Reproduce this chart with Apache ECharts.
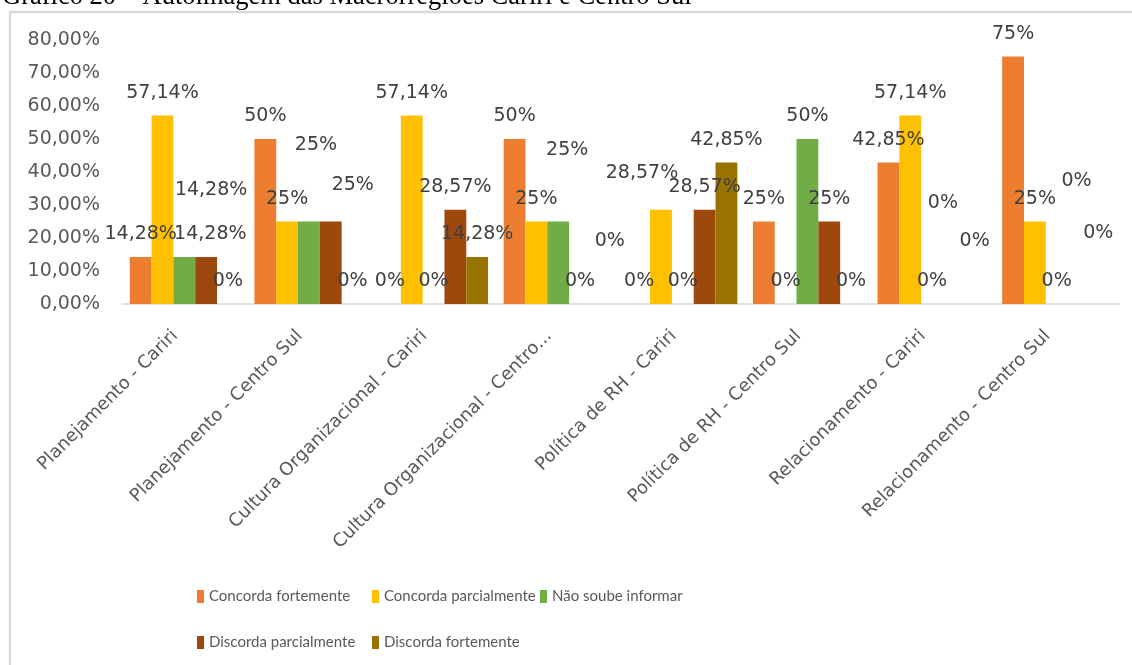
<!DOCTYPE html>
<html>
<head>
<meta charset="utf-8">
<script src="https://cdn.jsdelivr.net/npm/echarts@6/dist/echarts.min.js"></script>
<style>
html,body{margin:0;padding:0;background:#fff;}
#chart{width:1132px;height:665px;}
</style>
</head>
<body>
<div id="chart"></div>
<script>
// ---- data ----
const titleText = 'Gráfico 20 – Autoimagem das Macrorregiões Cariri e Centro Sul';
const categories = [
  'Planejamento - Cariri',
  'Planejamento - Centro Sul',
  'Cultura Organizacional - Cariri',
  'Cultura Organizacional - Centro Sul',
  'Política de RH - Cariri',
  'Política de RH - Centro Sul',
  'Relacionamento - Cariri',
  'Relacionamento - Centro Sul'
];
const seriesNames = ['Concorda fortemente', 'Concorda parcialmente', 'Não soube informar', 'Discorda parcialmente', 'Discorda fortemente'];
const concordaFortemente   = [14.28, 50, 0, 50, 0, 25, 42.85, 75];
const concordaParcialmente = [57.14, 25, 57.14, 25, 28.57, 0, 57.14, 25];
const naoSoubeInformar     = [14.28, 25, 0, 25, 0, 50, 0, 0];
const discordaParcialmente = [14.28, 25, 28.57, 0, 28.57, 25, 0, 0];
const discordaFortemente   = [0, 0, 14.28, 0, 42.85, 0, 0, 0];
const yMin = 0, yMax = 80, yStep = 10;

// ---- styling / layout ----
const colors = ['#ED7D31', '#FFC000', '#70AD47', '#9E480E', '#997300'];
const seriesValues = [concordaFortemente, concordaParcialmente, naoSoubeInformar, discordaParcialmente, discordaFortemente];
// manual label nudges (as moved in the original), keyed "series,category"
const labelNudges = {
  '2,0': [26, 0], '3,0': [5, -44],
  '2,1': [7, -54], '3,1': [22, -14],
  '2,3': [9, -49], '4,3': [8, -40],
  '1,4': [-19, -14],
  '3,6': [-11, -78], '4,6': [-1, -40],
  '3,7': [-2, -100], '4,7': [-2, -48]
};
const FONT = "'DejaVu Sans', sans-serif";
const LEGEND_FONT = "Lato, Roboto, sans-serif";

function pct(v) {
  return (Math.round(v) === v ? String(v) : v.toFixed(2).replace('.', ',')) + '%';
}

// width that just fits the truncated label as in the original
const cv = document.createElement('canvas').getContext('2d');
cv.font = "18px 'DejaVu Sans'";
const labelW = Math.ceil(cv.measureText('Cultura Organizacional - Centro...').width) + 2;

const series = seriesNames.map((name, s) => ({
  name: name,
  type: 'bar',
  barGap: '0%',
  barCategoryGap: '12.5%',
  itemStyle: { color: colors[s] },
  label: {
    show: true, position: 'top', distance: 13,
    color: '#404040', fontFamily: FONT, fontSize: 19,
    formatter: p => pct(p.value)
  },
  data: seriesValues[s].map((v, c) => {
    const n = labelNudges[s + ',' + c];
    return n ? { value: v, label: { offset: n } } : v;
  })
}));

const legendPos = [[197, 589], [372, 589], [540, 589], [197, 635], [372, 635]];
const legends = seriesNames.map((name, i) => ({
  data: [name], left: legendPos[i][0], top: legendPos[i][1],
  itemWidth: 7, itemHeight: 13, itemGap: 5, padding: 0,
  icon: 'rect',
  textStyle: { color: '#595959', fontFamily: LEGEND_FONT, fontSize: 15 },
  selectedMode: false
}));

const chart = echarts.init(document.getElementById('chart'), null, { renderer: 'canvas' });
chart.setOption({
  animation: false,
  color: colors,
  graphic: [
    { type: 'text', x: 2, y: -3, style: { text: titleText, font: "26.5px 'Liberation Serif'", fill: '#000', verticalAlign: 'middle' }, z: 10 },
    { type: 'rect', shape: { x: 10, y: 12, width: 1200, height: 700 }, style: { fill: 'none', stroke: '#d9d9d9', lineWidth: 2.5 }, z: 0 }
  ],
  legend: legends,
  grid: { left: 122, right: 13, top: 40, height: 264 },
  xAxis: {
    type: 'category', data: categories,
    axisLine: { lineStyle: { color: '#d9d9d9', width: 1.5 } },
    axisTick: { show: false },
    axisLabel: {
      rotate: 45, interval: 0, margin: 20, padding: [0, 13, 0, 0],
      color: '#595959', fontFamily: FONT, fontSize: 18,
      width: labelW, overflow: 'truncate', ellipsis: '...'
    }
  },
  yAxis: {
    type: 'value', min: yMin, max: yMax, interval: yStep,
    splitLine: { show: false },
    axisLine: { show: false }, axisTick: { show: false },
    axisLabel: {
      margin: 22, color: '#595959', fontFamily: FONT, fontSize: 19,
      formatter: v => v.toFixed(2).replace('.', ',') + '%'
    }
  },
  series: series
});
</script>
</body>
</html>
